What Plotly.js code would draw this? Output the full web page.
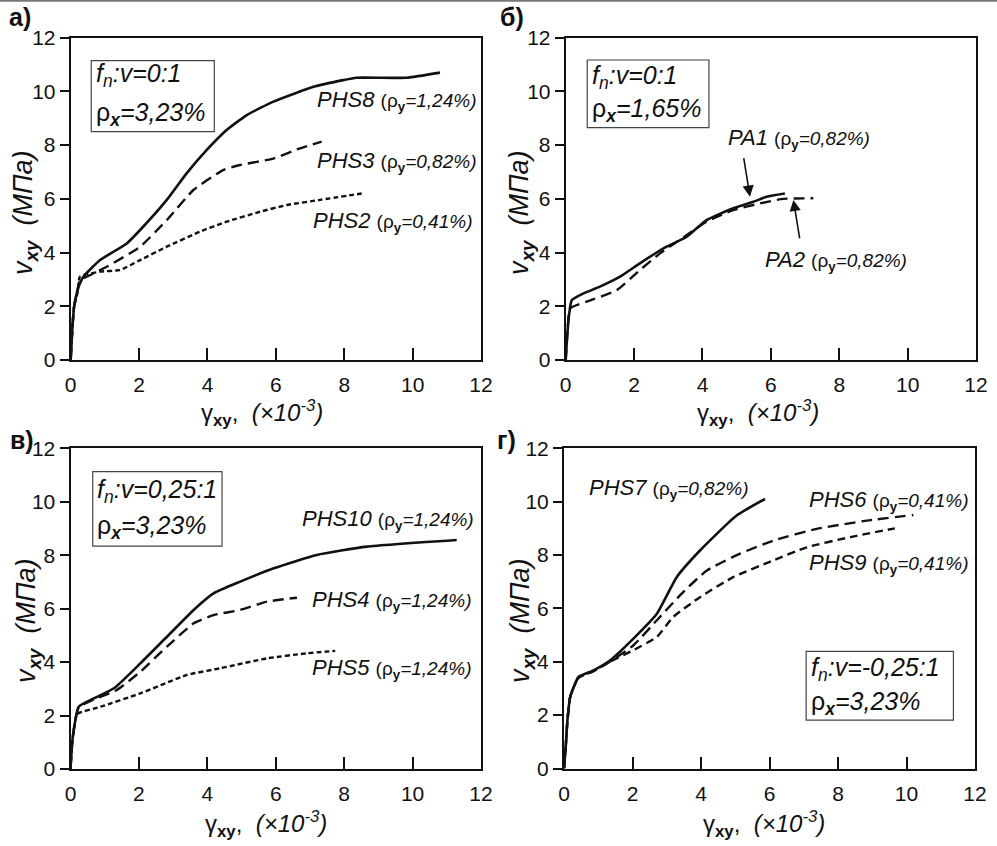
<!DOCTYPE html>
<html>
<head>
<meta charset="utf-8">
<script src="https://cdn.plot.ly/plotly-3.0.1.min.js"></script>
<style>html,body{margin:0;padding:0;background:#fff}#chart{width:997px;height:846px}</style>
</head>
<body>
<div id="chart"></div>
<script>
// ---- Panel а) ----
const phs8_x = [0, 0.05, 0.1, 0.2, 0.27, 0.37, 0.86, 1.64, 2.03, 2.81, 3.39, 3.98, 4.56, 5.15, 5.93, 7.1, 7.97, 8.36, 9.82, 10.8];
const phs8_y = [0, 1.2, 1.98, 2.6, 2.85, 3.1, 3.72, 4.34, 4.84, 5.96, 6.95, 7.82, 8.56, 9.12, 9.62, 10.17, 10.42, 10.51, 10.51, 10.7];
const phs3_x = [0, 0.05, 0.1, 0.2, 0.27, 0.47, 1.05, 2.03, 2.81, 3.59, 4.46, 4.95, 5.93, 6.7, 7.34];
const phs3_y = [0, 1.2, 2.0, 2.6, 2.98, 3.1, 3.47, 4.22, 5.21, 6.33, 7.07, 7.26, 7.5, 7.88, 8.13];
const phs2_x = [0, 0.05, 0.1, 0.2, 0.27, 0.86, 1.44, 2.03, 2.81, 3.78, 4.56, 5.54, 6.32, 7.29, 8.51];
const phs2_y = [0, 1.2, 2.0, 2.5, 3.1, 3.29, 3.35, 3.72, 4.22, 4.78, 5.15, 5.52, 5.77, 5.96, 6.2];
// ---- Panel б) ----
const pa1_x = [0, 0.05, 0.1, 0.18, 0.52, 1.0, 1.59, 2.17, 2.86, 3.54, 4.12, 4.9, 5.49, 5.88, 6.41];
const pa1_y = [0, 1.0, 1.7, 2.23, 2.48, 2.73, 3.1, 3.6, 4.16, 4.59, 5.21, 5.65, 5.89, 6.08, 6.2];
const pa2_x = [0, 0.06, 0.13, 0.61, 1.49, 2.17, 2.76, 3.54, 4.12, 4.9, 5.68, 6.36, 7.24];
const pa2_y = [0, 1.2, 1.92, 2.17, 2.6, 3.35, 3.97, 4.65, 5.15, 5.58, 5.83, 6.0, 6.02];
// ---- Panel в) ----
const phs10_x = [0, 0.05, 0.1, 0.24, 0.68, 1.27, 2.04, 2.82, 3.6, 4.18, 4.96, 5.94, 7.2, 8.66, 11.29];
const phs10_y = [0, 1.0, 1.5, 2.33, 2.64, 3.02, 3.95, 4.95, 5.95, 6.57, 7.01, 7.51, 8.01, 8.32, 8.57];
const phs4_x = [0, 0.05, 0.1, 0.24, 0.68, 1.36, 2.04, 2.82, 3.6, 4.18, 4.96, 5.74, 6.62];
const phs4_y = [0, 1.0, 1.5, 2.3, 2.6, 2.96, 3.64, 4.58, 5.45, 5.76, 5.95, 6.26, 6.41];
const phs5_x = [0, 0.05, 0.1, 0.19, 0.88, 2.04, 3.41, 4.38, 5.74, 6.91, 7.74];
const phs5_y = [0, 1.0, 1.5, 2.05, 2.33, 2.83, 3.52, 3.77, 4.14, 4.33, 4.42];
// ---- Panel г) ----
const phs7_x = [0, 0.05, 0.1, 0.18, 0.3, 0.42, 0.86, 1.34, 2.02, 2.71, 3.29, 3.97, 5.04, 5.87];
const phs7_y = [0, 0.8, 1.8, 2.68, 3.1, 3.43, 3.68, 4.05, 4.86, 5.8, 7.17, 8.17, 9.48, 10.1];
const phs6_x = [0, 0.05, 0.1, 0.18, 0.3, 0.42, 0.86, 1.34, 2.02, 2.8, 3.48, 4.17, 5.14, 6.11, 7.38, 8.84, 10.2];
const phs6_y = [0, 0.8, 1.8, 2.68, 3.1, 3.4, 3.65, 4.0, 4.61, 5.68, 6.61, 7.42, 8.05, 8.54, 8.98, 9.29, 9.5];
const phs9_x = [0, 0.05, 0.1, 0.18, 0.3, 0.42, 0.86, 1.34, 2.02, 2.71, 3.19, 3.97, 4.94, 6.11, 7.09, 8.35, 9.66];
const phs9_y = [0, 0.8, 1.8, 2.68, 3.1, 3.4, 3.65, 4.0, 4.43, 4.93, 5.68, 6.42, 7.17, 7.8, 8.29, 8.67, 9.0];

const tickVals = [0, 2, 4, 6, 8, 10, 12];
const tickText = ["0", "2", "4", "6", "8", "10", "12"];
const panelLabels = ["а)", "б)", "в)", "г)"];

const FONT = "Liberation Sans Narrow, Liberation Sans, Arial, sans-serif";
const FONT2 = "Liberation Sans, Arial, sans-serif";
const SOLID = {color: "#111", width: 2.6, dash: "solid"};
const LONG = {color: "#111", width: 2.4, dash: "11px,6px"};
const SHORT = {color: "#111", width: 2.4, dash: "5px,3px"};

function tr(x, y, ax, line) {
  return {x: x, y: y, xaxis: "x" + ax, yaxis: "y" + ax, type: "scatter", mode: "lines",
          line: Object.assign({shape: "spline", smoothing: 0.5}, line), hoverinfo: "skip", showlegend: false};
}
const data = [
  tr(phs2_x, phs2_y, "", SHORT), tr(phs3_x, phs3_y, "", LONG), tr(phs8_x, phs8_y, "", SOLID),
  tr(pa2_x, pa2_y, "2", LONG), tr(pa1_x, pa1_y, "2", SOLID),
  tr(phs5_x, phs5_y, "3", SHORT), tr(phs4_x, phs4_y, "3", LONG), tr(phs10_x, phs10_y, "3", SOLID),
  tr(phs9_x, phs9_y, "4", {color: "#111", width: 2.4, dash: "8px,5px"}), tr(phs6_x, phs6_y, "4", LONG), tr(phs7_x, phs7_y, "4", SOLID)
];

const W = 997, H = 846;
const panels = [
  {ax: "", x0: 70.7, x1: 481, y0: 37.7, y1: 360, ytx: 25, yty: 213, xtx: 262, xty: 413},
  {ax: "2", x0: 565.7, x1: 976, y0: 37.7, y1: 360, ytx: 521, yty: 213, xtx: 758, xty: 413},
  {ax: "3", x0: 70.5, x1: 481, y0: 448.3, y1: 769, ytx: 28, yty: 621, xtx: 266, xty: 824},
  {ax: "4", x0: 564, x1: 975, y0: 448.3, y1: 768.5, ytx: 522, yty: 621, xtx: 764, xty: 824}
];
const ytitle = "<i>v</i><sub><b><i>xy</i></b></sub>  <i>(МПа)</i>";
const xtitle = "γ<sub><b>xy</b></sub>,  <i>(×10</i><sup><i>-3</i></sup><i>)</i>";

const layout = {
  width: W, height: H, margin: {l: 0, r: 0, t: 0, b: 0},
  paper_bgcolor: "#fff", plot_bgcolor: "#fff", showlegend: false,
  font: {family: FONT, size: 19, color: "#111"},
  annotations: [], shapes: []
};
panels.forEach(function (p, i) {
  const xa = "xaxis" + p.ax, ya = "yaxis" + p.ax;
  layout[xa] = {
    domain: [p.x0 / W, p.x1 / W], range: [0, 12], anchor: "y" + p.ax,
    tickmode: "array", tickvals: tickVals, ticktext: tickText,
    ticks: "inside", ticklen: 12, tickwidth: 2, tickcolor: "#111",
    showline: true, linewidth: 2, linecolor: "#111", mirror: true,
    showgrid: false, zeroline: false, ticklabelstandoff: 5,
    tickfont: {family: FONT, size: 21, color: "#111"}
  };
  layout[ya] = {
    domain: [1 - p.y1 / H, 1 - p.y0 / H], range: [0, 12], anchor: "x" + p.ax,
    tickmode: "array", tickvals: tickVals, ticktext: tickText,
    ticks: "outside", ticklen: 9, tickwidth: 2, tickcolor: "#111",
    showline: true, linewidth: 2, linecolor: "#111", mirror: true,
    showgrid: false, zeroline: false,
    tickfont: {family: FONT, size: 21, color: "#111"}
  };
  layout.annotations.push({xref: "paper", yref: "paper", x: p.ytx / W, y: 1 - p.yty / H, text: ytitle,
    textangle: -90, showarrow: false, xanchor: "center", yanchor: "middle",
    font: {family: FONT2, size: 27, color: "#111"}});
  layout.annotations.push({xref: "paper", yref: "paper", x: p.xtx / W, y: 1 - p.xty / H, text: xtitle,
    showarrow: false, xanchor: "center", yanchor: "middle",
    font: {family: FONT2, size: 24, color: "#111"}});
});

const labelPos = [[20, 17], [512, 17], [22, 440], [506, 440]];
panelLabels.forEach(function (t, i) {
  layout.annotations.push({xref: "paper", yref: "paper", x: labelPos[i][0] / W, y: 1 - labelPos[i][1] / H,
    text: "<b>" + t + "</b>", showarrow: false, xanchor: "center", yanchor: "middle",
    font: {family: FONT2, size: 25, color: "#111"}});
});

function curveLabel(name, rho) {
  return "<i>" + name + "</i> <span style='font-size:19px'>(ρ<sub><b>y</b></sub><i>=" + rho + ")</i></span>";
}
function note(ax, x, y, text, anchor) {
  layout.annotations.push({xref: "x" + ax, yref: "y" + ax, x: x, y: y, text: text, showarrow: false,
    xanchor: anchor, yanchor: "middle", font: {family: FONT2, size: 22, color: "#111"}});
}
note("", 11.9, 9.68, curveLabel("PHS8", "1,24%"), "right");
note("", 11.9, 7.38, curveLabel("PHS3", "0,82%"), "right");
note("", 11.8, 5.15, curveLabel("PHS2", "0,41%"), "right");
note("3", 11.85, 9.32, curveLabel("PHS10", "1,24%"), "right");
note("3", 11.78, 6.32, curveLabel("PHS4", "1,24%"), "right");
note("3", 11.78, 3.77, curveLabel("PHS5", "1,24%"), "right");
note("4", 0.66, 10.48, curveLabel("PHS7", "0,82%"), "left");
note("4", 11.85, 10.04, curveLabel("PHS6", "0,41%"), "right");
note("4", 11.85, 7.67, curveLabel("PHS9", "0,41%"), "right");
note("2", 6.83, 8.25, curveLabel("PA1", "0,82%"), "center");
note("2", 7.9, 3.72, curveLabel("PA2", "0,82%"), "center");

function arrow(ax, tx, ty, hx, hy) {
  layout.annotations.push({xref: "x" + ax, yref: "y" + ax, axref: "x" + ax, ayref: "y" + ax,
    x: hx, y: hy, ax: tx, ay: ty, text: "", showarrow: true, arrowhead: 2, arrowsize: 1.4,
    arrowwidth: 1.6, arrowcolor: "#111"});
}
arrow("2", 5.2, 7.57, 5.39, 6.08);
arrow("2", 6.85, 4.47, 6.66, 5.96);

const boxes = [
  {ax: "", bx: [0.6, 4.2], by: [8.5, 11.15], l1: "<i>f</i><sub><i>n</i></sub><i>:v=0:1</i>", l2: "ρ<sub><b><i>x</i></b></sub><i>=3,23%</i>", t1: 10.6, t2: 9.15},
  {ax: "2", bx: [0.63, 4.19], by: [8.65, 11.17], l1: "<i>f</i><sub><i>n</i></sub><i>:v=0:1</i>", l2: "ρ<sub><b><i>x</i></b></sub><i>=1,65%</i>", t1: 10.55, t2: 9.3},
  {ax: "3", bx: [0.65, 4.43], by: [8.34, 11.13], l1: "<i>f</i><sub><i>n</i></sub><i>:v=0,25:1</i>", l2: "ρ<sub><b><i>x</i></b></sub><i>=3,23%</i>", t1: 10.4, t2: 9.05},
  {ax: "4", bx: [7.07, 11.37], by: [1.81, 4.39], l1: "<i>f</i><sub><i>n</i></sub><i>:v=-0,25:1</i>", l2: "ρ<sub><b><i>x</i></b></sub><i>=3,23%</i>", t1: 3.74, t2: 2.45}
];
boxes.forEach(function (b) {
  layout.shapes.push({type: "rect", xref: "x" + b.ax, yref: "y" + b.ax, x0: b.bx[0], x1: b.bx[1], y0: b.by[0], y1: b.by[1],
    line: {color: "#444", width: 1.2}, fillcolor: "rgba(0,0,0,0)"});
  [[b.l1, b.t1], [b.l2, b.t2]].forEach(function (l) {
    layout.annotations.push({xref: "x" + b.ax, yref: "y" + b.ax, x: b.bx[0] + 0.08, y: l[1], text: l[0], showarrow: false,
      xanchor: "left", yanchor: "middle", font: {family: FONT2, size: 25, color: "#111"}});
  });
});
layout.shapes.push({type: "line", xref: "paper", yref: "paper", x0: 0, x1: 1, y0: 1 - 0.8 / H, y1: 1 - 0.8 / H,
  line: {color: "#777", width: 2}});

Plotly.newPlot("chart", data, layout, {staticPlot: true, displayModeBar: false});
</script>
</body>
</html>
